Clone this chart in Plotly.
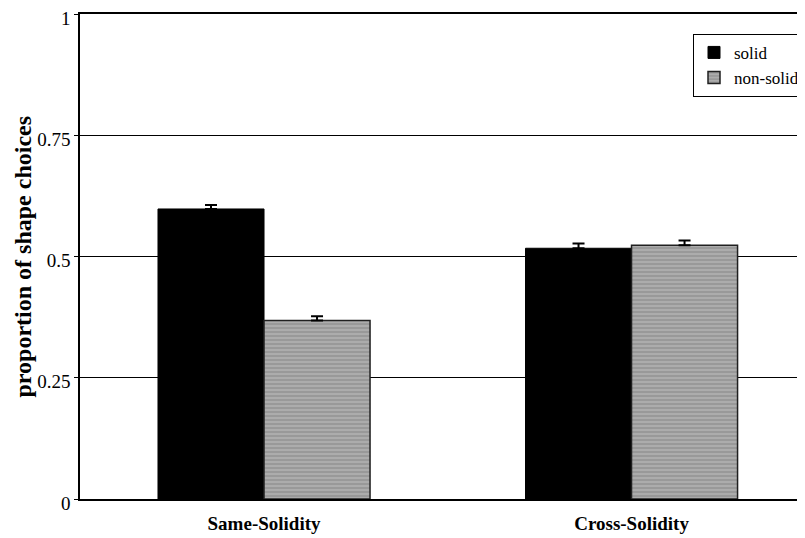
import plotly.graph_objects as go

categories = ["Same-Solidity", "Cross-Solidity"]
solid_vals = [0.598, 0.517]
solid_err = [0.008, 0.010]
nonsolid_vals = [0.368, 0.523]
nonsolid_err = [0.009, 0.010]
y_ticks = [0, 0.25, 0.5, 0.75, 1]
y_ticklabels = ["0", "0.25", "0.5", "0.75", "1"]
y_title = "proportion of shape choices"

SERIF = "Times New Roman"

fig = go.Figure()
fig.add_trace(go.Bar(
    name="solid", x=categories, y=solid_vals,
    marker=dict(color="#000000", line=dict(color="#000000", width=1)),
    error_y=dict(type="data", array=solid_err, symmetric=False, arrayminus=[0, 0],
                 color="#000000", thickness=2, width=6),
))
fig.add_trace(go.Bar(
    name="non-solid", x=categories, y=nonsolid_vals,
    marker=dict(color="#a4a4a4", line=dict(color="#202020", width=1.5),
                pattern=dict(shape="-", fgcolor="#747474", bgcolor="#acacac",
                             size=4, solidity=0.35)),
    error_y=dict(type="data", array=nonsolid_err, symmetric=False, arrayminus=[0, 0],
                 color="#000000", thickness=2, width=6),
))

fig.update_layout(
    width=797, height=530,
    margin=dict(l=72, r=0, t=6, b=39, autoexpand=False),
    paper_bgcolor="white", plot_bgcolor="white",
    barmode="group", bargap=0.423, bargroupgap=0,
    font=dict(family=SERIF, color="black", size=18),
    showlegend=True,
    legend=dict(x=1.0, y=0.959, xanchor="right", yanchor="top",
                bordercolor="black", borderwidth=1, bgcolor="white",
                font=dict(family=SERIF, size=17, color="black"),
                tracegroupgap=0, itemwidth=30),
    annotations=[dict(
        text="<b>" + y_title + "</b>", textangle=-90,
        xref="paper", yref="paper", x=-0.08, y=0.5,
        xanchor="center", yanchor="middle", showarrow=False,
        font=dict(family=SERIF, size=24, color="black"),
    )],
)
fig.update_xaxes(
    type="category", range=[-0.5007, 1.472], automargin=False,
    showline=True, linecolor="black", linewidth=1.5, mirror=True,
    showgrid=False, ticks="", zeroline=False,
    tickfont=dict(family=SERIF, size=19, color="black", weight="bold"),
    ticklabelstandoff=6,
)
fig.update_yaxes(
    range=[0, 1], tickvals=y_ticks, ticktext=y_ticklabels, automargin=False,
    showline=True, linecolor="black", linewidth=1.5,
    showgrid=True, gridcolor="black", gridwidth=1,
    ticks="outside", ticklen=4, tickcolor="black",
    tickfont=dict(family=SERIF, size=19, color="black"),
    ticklabeloverflow="allow", ticklabelshift=4,
    zeroline=False,
)

fig.write_html("out.html")
